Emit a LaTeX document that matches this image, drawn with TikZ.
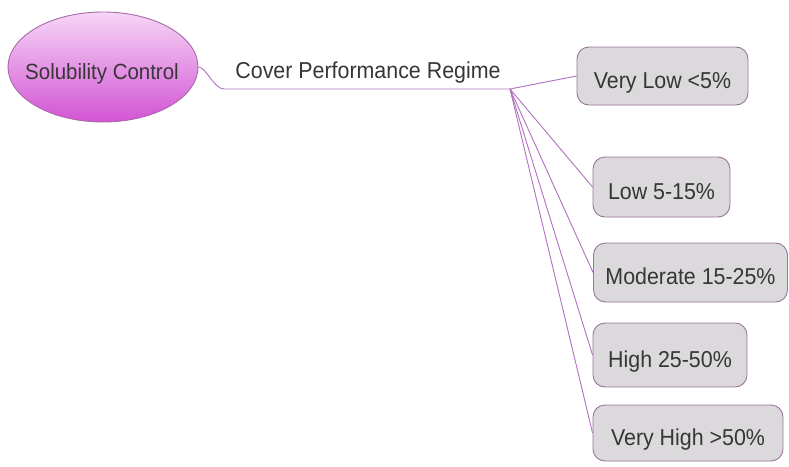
\documentclass[tikz,border=0pt]{standalone}
\usepackage{fontspec}
\newfontfamily\lab{Liberation Sans}[FakeStretch=0.93]
\usetikzlibrary{shapes.geometric}
\definecolor{linec}{HTML}{B070C0}
\definecolor{boxfill}{HTML}{DCD9DC}
\definecolor{boxdraw}{HTML}{9A7498}
\definecolor{txt}{HTML}{363636}
\definecolor{elltop}{HTML}{F6D6F6}
\definecolor{ellbot}{HTML}{D254D4}
\definecolor{elldraw}{HTML}{A86AA8}
\tikzset{
  lbl/.style={font=\lab\fontsize{23}{27}\selectfont, text=txt},
  leaf/.style={lbl, rounded corners=12pt, fill=boxfill, draw=boxdraw, line width=0.9pt, inner sep=0pt, text height=24pt, text depth=0pt},
  conn/.style={draw=linec, line width=0.9pt},
}
\begin{document}
\begin{tikzpicture}[x=1pt,y=-1pt]
\useasboundingbox (0,0) rectangle (789,466);
\node[ellipse, minimum width=190pt, minimum height=110pt, top color=elltop, bottom color=ellbot, draw=elldraw, line width=0.9pt, inner sep=0pt] (root) at (103,67) {};
\node[lbl, font=\lab\fontsize{22}{26}\selectfont, anchor=base] (rootlbl) at (102,79) {Solubility Control};
\node[lbl, anchor=base] (cpr) at (368,78) {Cover Performance Regime};
\coordinate (bend) at (224,89);
\coordinate (junc) at (510,89);
\node[leaf, minimum width=171pt, minimum height=58pt] (vl) at (662.5,76) {Very Low <5\%};
\node[leaf, minimum width=137pt, minimum height=60pt] (lo) at (661.5,187) {Low 5-15\%};
\node[leaf, minimum width=194pt, minimum height=59pt] (mo) at (690.5,272.5) {Moderate 15-25\%};
\node[leaf, minimum width=154pt, minimum height=64pt] (hi) at (670,355) {High 25-50\%};
\node[leaf, minimum width=190pt, minimum height=56pt] (vh) at (688,433) {Very High >50\%};
\draw[conn] (root.east) .. controls (206,67) and (214,89) .. (bend) -- (junc);
\draw[conn] (junc) -- (vl.west);
\draw[conn] (junc) -- (lo.west);
\draw[conn] (junc) -- (mo.west);
\draw[conn] (junc) -- (hi.west);
\draw[conn] (junc) -- (vh.west);
\end{tikzpicture}
\end{document}
